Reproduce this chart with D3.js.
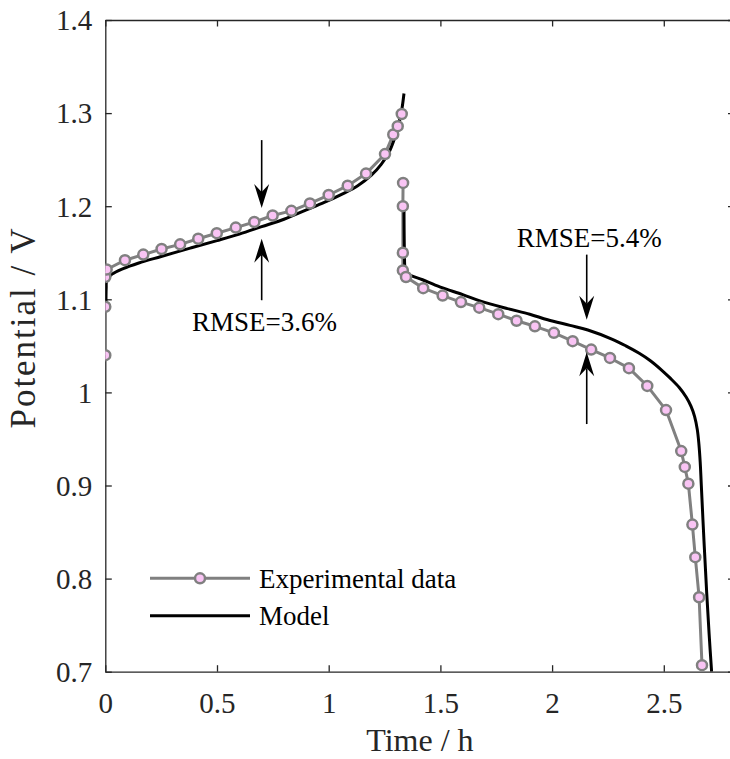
<!DOCTYPE html>
<html>
<head>
<meta charset="utf-8">
<script src="https://cdn.jsdelivr.net/npm/d3@7"></script>
<style>
  html, body { margin: 0; padding: 0; background: #fff; }
  svg { display: block; }
  svg text { font-family: "Liberation Serif", "Times New Roman", serif; }
</style>
</head>
<body>
<svg id="chart" width="730" height="759"></svg>
<script>
// Charge / discharge potential curves: experiment vs. model
const xTicks = [0, 0.5, 1, 1.5, 2, 2.5];
const xTickLabels = ["0", "0.5", "1", "1.5", "2", "2.5"];
const yTicks = [0.7, 0.8, 0.9, 1.0, 1.1, 1.2, 1.3, 1.4];
const yTickLabels = ["0.7", "0.8", "0.9", "1", "1.1", "1.2", "1.3", "1.4"];

// Experimental data, charge step (time h, potential V)
const expChargeT = [0, 0, 0, 0.006, 0.088, 0.170, 0.252, 0.335, 0.416, 0.499, 0.584, 0.667, 0.749, 0.833, 0.916, 1.000, 1.085, 1.167, 1.252, 1.289, 1.309, 1.327];
const expChargeV = [1.040, 1.092, 1.124, 1.132, 1.142, 1.148, 1.154, 1.159, 1.165, 1.171, 1.177, 1.183, 1.190, 1.195, 1.203, 1.212, 1.222, 1.235, 1.256, 1.277, 1.286, 1.299];

// Experimental data, discharge step
const expDischargeT = [1.333, 1.332, 1.332, 1.332, 1.346, 1.423, 1.510, 1.592, 1.674, 1.759, 1.841, 1.923, 2.008, 2.092, 2.175, 2.259, 2.344, 2.426, 2.510, 2.578, 2.594, 2.610, 2.628, 2.641, 2.658, 2.671];
const expDischargeV = [1.225, 1.200, 1.150, 1.131, 1.124, 1.112, 1.104, 1.097, 1.091, 1.084, 1.077, 1.071, 1.064, 1.055, 1.046, 1.037, 1.026, 1.007, 0.981, 0.937, 0.920, 0.902, 0.858, 0.823, 0.780, 0.707];

// Model, charge step
const modelChargeT = [0.003, 0.004, 0.007, 0.03, 0.08, 0.15, 0.25, 0.38, 0.5, 0.6, 0.7, 0.8, 0.9, 0.98, 1.06, 1.13, 1.19, 1.235, 1.27, 1.295, 1.315, 1.328, 1.337];
const modelChargeV = [1.087, 1.112, 1.121, 1.127, 1.133, 1.139, 1.146, 1.155, 1.163, 1.170, 1.178, 1.186, 1.196, 1.204, 1.213, 1.222, 1.233, 1.245, 1.258, 1.273, 1.290, 1.305, 1.321];

// Model, discharge step
const modelDischargeT = [1.337, 1.339, 1.342, 1.35, 1.42, 1.5, 1.6, 1.68, 1.8, 1.9, 1.98, 2.08, 2.16, 2.27, 2.33, 2.39, 2.44, 2.49, 2.53, 2.57, 2.60, 2.622, 2.638, 2.650, 2.657, 2.663, 2.668, 2.680, 2.692, 2.703, 2.714];
const modelDischargeV = [1.200, 1.150, 1.133, 1.128, 1.121, 1.113, 1.105, 1.098, 1.090, 1.084, 1.078, 1.072, 1.067, 1.057, 1.050, 1.042, 1.034, 1.024, 1.015, 1.005, 0.995, 0.985, 0.974, 0.960, 0.945, 0.925, 0.900, 0.840, 0.785, 0.740, 0.700];

// RMSE annotations: label, arrow time, arrow tips and tails (V), label anchor
const annotations = [
  { label: "RMSE=3.6%", t: 0.70, downTip: 1.198, upTip: 1.165, top: 1.271, bottom: 1.099, textT: 0.388, textV: 1.066 },
  { label: "RMSE=5.4%", t: 2.155, downTip: 1.078, upTip: 1.043, top: 1.148, bottom: 0.966, textT: 1.842, textV: 1.156 }
];

const legendItems = ["Experimental data", "Model"];

const zip = (ts, vs) => ts.map((t, i) => ({ t, v: vs[i] }));

const svg = d3.select("#chart");
const frame = { left: 105.3, top: 20, right: 734.5, bottom: 671.7 };

const x = d3.scaleLinear().domain([0, 2.8165]).range([frame.left, frame.right]);
const y = d3.scaleLinear().domain([0.7, 1.4]).range([frame.bottom, frame.top]);

const axisColor = "#262626";
const serif = "'Liberation Serif', 'Times New Roman', serif";

svg.append("defs").append("clipPath").attr("id", "plotClip")
  .append("rect")
  .attr("x", frame.left).attr("y", frame.top)
  .attr("width", frame.right - frame.left).attr("height", frame.bottom - frame.top);

// Axes with inward ticks on all four sides
const tickLen = 6.5;
const styleAxis = g => {
  g.attr("font-family", serif).attr("font-size", 29);
  g.selectAll("path.domain").attr("stroke", axisColor).attr("stroke-width", 1.3);
  g.selectAll(".tick line").attr("stroke", axisColor).attr("stroke-width", 1.3);
  g.selectAll(".tick text").attr("fill", axisColor);
};

svg.append("g").attr("transform", `translate(0,${frame.bottom})`)
  .call(d3.axisBottom(x).tickValues(xTicks).tickFormat((d, i) => xTickLabels[i])
    .tickSizeInner(-tickLen).tickSizeOuter(0))
  .call(styleAxis)
  .call(g => g.selectAll(".tick text").attr("y", 41).attr("dy", null));

svg.append("g").attr("transform", `translate(0,${frame.top})`)
  .call(d3.axisTop(x).tickValues(xTicks).tickFormat("").tickSizeInner(-tickLen).tickSizeOuter(0))
  .call(styleAxis);

svg.append("g").attr("transform", `translate(${frame.left},0)`)
  .call(d3.axisLeft(y).tickValues(yTicks).tickFormat((d, i) => yTickLabels[i])
    .tickSizeInner(-tickLen).tickSizeOuter(0))
  .call(styleAxis)
  .call(g => g.selectAll(".tick text").attr("x", -13).attr("dy", "0.34em"));

svg.append("g").attr("transform", `translate(${frame.right},0)`)
  .call(d3.axisRight(y).tickValues(yTicks).tickFormat("").tickSizeInner(-tickLen).tickSizeOuter(0))
  .call(styleAxis);

// Axis titles
svg.append("text")
  .attr("x", (frame.left + frame.right) / 2).attr("y", 751)
  .attr("text-anchor", "middle").attr("fill", axisColor)
  .attr("font-size", 32).text("Time / h");

svg.append("text")
  .attr("transform", "translate(35,328.5) rotate(-90)")
  .attr("text-anchor", "middle").attr("fill", axisColor)
  .attr("font-size", 35)
  .attr("textLength", 200).attr("lengthAdjust", "spacing")
  .text("Potential / V");

// Data marks
const plot = svg.append("g").attr("clip-path", "url(#plotClip)");
const line = d3.line().x(d => x(d.t)).y(d => y(d.v));
const smooth = d3.line().x(d => x(d.t)).y(d => y(d.v)).curve(d3.curveCatmullRom.alpha(0.5));

const expGray = "#808080";
const markerFill = "#f9c4f4";

[zip(expChargeT, expChargeV), zip(expDischargeT, expDischargeV)].forEach(data => {
  plot.append("path").datum(data)
    .attr("d", line).attr("fill", "none")
    .attr("stroke", expGray).attr("stroke-width", 3).attr("stroke-linejoin", "round");
});

[zip(modelChargeT, modelChargeV), zip(modelDischargeT, modelDischargeV)].forEach(data => {
  plot.append("path").datum(data)
    .attr("d", smooth).attr("fill", "none")
    .attr("stroke", "#000").attr("stroke-width", 3).attr("stroke-linejoin", "round");
});

[zip(expChargeT, expChargeV), zip(expDischargeT, expDischargeV)].forEach(data => {
  plot.selectAll(null).data(data).enter().append("circle")
    .attr("cx", d => x(d.t)).attr("cy", d => y(d.v)).attr("r", 5)
    .attr("fill", markerFill).attr("stroke", expGray).attr("stroke-width", 2.5);
});

// RMSE arrows and labels
const arrow = (x0, yFrom, yTo) => {
  const dir = yTo > yFrom ? 1 : -1;
  const headLen = 24, headW = 7.5, notch = 8;
  svg.append("line")
    .attr("x1", x0).attr("x2", x0).attr("y1", yFrom).attr("y2", yTo - dir * headLen + dir * notch)
    .attr("stroke", "#000").attr("stroke-width", 1.6);
  svg.append("path")
    .attr("d", `M${x0},${yTo} L${x0 - headW},${yTo - dir * headLen} L${x0},${yTo - dir * (headLen - notch)} L${x0 + headW},${yTo - dir * headLen} Z`)
    .attr("fill", "#000");
};

annotations.forEach(a => {
  const ax = x(a.t);
  arrow(ax, y(a.top), y(a.downTip));
  arrow(ax, y(a.bottom), y(a.upTip));
  svg.append("text")
    .attr("x", x(a.textT)).attr("y", y(a.textV))
    .attr("fill", "#000").attr("font-size", 27).text(a.label);
});

// Legend
const legend = svg.append("g");
const legendRows = [578.3, 615.7];
legendItems.forEach((name, i) => {
  const ly = legendRows[i];
  legend.append("line")
    .attr("x1", 150).attr("x2", 250).attr("y1", ly).attr("y2", ly)
    .attr("stroke", i === 0 ? expGray : "#000").attr("stroke-width", 3);
  if (i === 0) {
    legend.append("circle").attr("cx", 200).attr("cy", ly).attr("r", 5)
      .attr("fill", markerFill).attr("stroke", expGray).attr("stroke-width", 2.5);
  }
  legend.append("text")
    .attr("x", 259).attr("y", ly + 9.5)
    .attr("fill", "#000").attr("font-size", 27).text(name);
});
</script>
</body>
</html>
